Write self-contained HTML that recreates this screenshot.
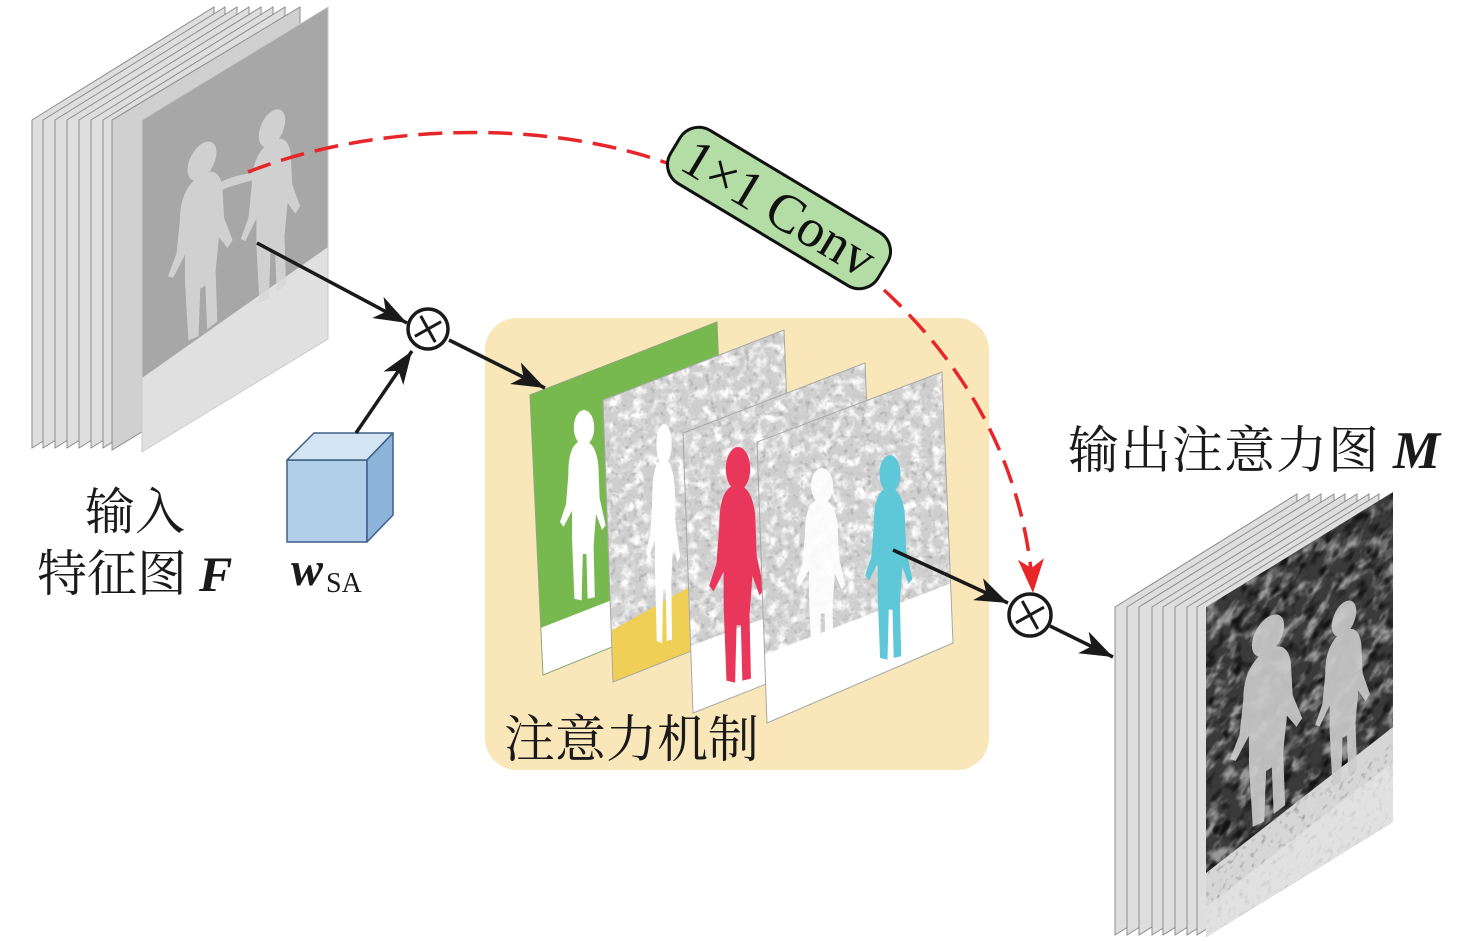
<!DOCTYPE html>
<html><head><meta charset="utf-8">
<style>
html,body{margin:0;padding:0;background:#fff;}
svg{display:block;}
</style></head>
<body>
<svg width="1476" height="941" viewBox="0 0 1476 941" xmlns="http://www.w3.org/2000/svg">
<defs>
  <marker id="ab" markerUnits="userSpaceOnUse" viewBox="-34 -14 36 28" refX="0" refY="0" markerWidth="36" markerHeight="28" orient="auto">
    <path d="M0,0 L-33,-12 L-24,0 L-33,12 Z" fill="#1a1a1a"/>
  </marker>
  <marker id="ar" markerUnits="userSpaceOnUse" viewBox="-36 -15 38 30" refX="0" refY="0" markerWidth="38" markerHeight="30" orient="auto">
    <path d="M0,0 L-34,-13 L-25,0 L-34,13 Z" fill="#e8262a"/>
  </marker>
  <filter id="wblob" x="0" y="0" width="1" height="1" color-interpolation-filters="sRGB">
    <feTurbulence type="fractalNoise" baseFrequency="0.09" numOctaves="3" seed="4"/>
    <feColorMatrix type="matrix" values="0 0 0 0 1  0 0 0 0 1  0 0 0 0 1  3.2 0 0 0 -1.45"/>
  </filter>
  <filter id="dspk" x="0" y="0" width="1" height="1" color-interpolation-filters="sRGB">
    <feTurbulence type="fractalNoise" baseFrequency="0.18" numOctaves="2" seed="9"/>
    <feColorMatrix type="matrix" values="0 0 0 0 0.55  0 0 0 0 0.55  0 0 0 0 0.55  3 0 0 0 -1.7"/>
  </filter>
  <filter id="gblob" x="0" y="0" width="1" height="1" color-interpolation-filters="sRGB">
    <feTurbulence type="fractalNoise" baseFrequency="0.06" numOctaves="3" seed="11"/>
    <feColorMatrix type="matrix" values="0 0 0 0 0.6  0 0 0 0 0.6  0 0 0 0 0.6  3.5 0 0 0 -1.6"/>
  </filter>
  <filter id="kblob" x="0" y="0" width="1" height="1" color-interpolation-filters="sRGB">
    <feTurbulence type="fractalNoise" baseFrequency="0.08" numOctaves="2" seed="21"/>
    <feColorMatrix type="matrix" values="0 0 0 0 0.08  0 0 0 0 0.08  0 0 0 0 0.08  3.5 0 0 0 -1.7"/>
  </filter>
  <g id="person">
    <ellipse cx="0" cy="22" rx="17" ry="22"/>
    <path d="M-10,40 C-22,46 -26,60 -26,80 L-30,118 L-40,140 L-34,146 L-20,126 L-20,160 L-16,236 L-4,238 L-2,180 L4,180 L6,236 L18,234 L16,170 L20,130 L30,150 L36,144 L26,110 L24,70 C22,52 14,42 6,40 Z"/>
  </g>
  <clipPath id="cp1"><polygon points="530,395 717,322 728,600 543,675"/></clipPath>
  <clipPath id="cp2"><polygon points="603,400 784,330 795,610 613,682"/></clipPath>
  <clipPath id="cp3"><polygon points="683,433 865,363 877,640 693,713"/></clipPath>
  <clipPath id="cp4"><polygon points="757,442 942,372 953,643 767,723"/></clipPath>
  <clipPath id="cpR"><rect x="0" y="0" width="187" height="330"/></clipPath>
  <clipPath id="cpL"><rect x="0" y="0" width="186" height="332"/></clipPath>
</defs>

<!-- LEFT STACK -->
<g fill="#dedede" stroke="#8c8c8c" stroke-width="1">
  <polygon points="32,120 214,7 214,335 32,448"/>
  <polygon points="43,120 225,7 225,335 43,448"/>
  <polygon points="55,120 237,7 237,335 55,448"/>
  <polygon points="67,120 249,7 249,335 67,448"/>
  <polygon points="79,120 261,7 261,335 79,448"/>
  <polygon points="91,120 273,7 273,335 91,448"/>
  <polygon points="103,120 285,7 285,335 103,448"/>
  <polygon points="112,120 300,7 300,336 112,450" fill="#d0d0d0"/>
</g>
<g transform="translate(142,120) skewY(-31.28)">
  <g clip-path="url(#cpL)">
    <rect x="0" y="0" width="186" height="332" fill="#a7a7a7"/>
    <polygon points="0,258 186,240 186,332 0,332" fill="#e0e0e0"/>
    <g fill="#d8d8d8" opacity="0.85">
      <use href="#person" transform="translate(60,60) scale(0.85,0.8)"/>
      <use href="#person" transform="translate(130,70) scale(0.78,0.78)"/>
      <path d="M80,110 C95,112 105,118 115,122 L112,128 C100,124 90,120 78,118 Z"/>
    </g>
  </g>
  <rect x="0" y="0" width="186" height="332" fill="none" stroke="#c8c8c8" stroke-width="1"/>
</g>

<!-- RIGHT STACK -->
<g fill="#dedede" stroke="#8c8c8c" stroke-width="1">
  <polygon points="1115,607 1297,494 1297,822 1115,935"/>
  <polygon points="1127,607 1309,494 1309,822 1127,935"/>
  <polygon points="1139,607 1321,494 1321,822 1139,935"/>
  <polygon points="1152,607 1334,494 1334,822 1152,935"/>
  <polygon points="1163,607 1345,494 1345,822 1163,935"/>
  <polygon points="1175,607 1357,494 1357,822 1175,935"/>
  <polygon points="1187,607 1369,494 1369,822 1187,935"/>
  <polygon points="1197,607 1379,494 1379,822 1197,935"/>
</g>
<g transform="translate(1206,607) skewY(-31.6)">
  <g clip-path="url(#cpR)">
    <rect x="0" y="0" width="187" height="330" fill="#3a3a3a"/>
    <rect x="0" y="0" width="187" height="330" fill="#fff" filter="url(#gblob)"/>
    <rect x="0" y="0" width="187" height="330" fill="#fff" filter="url(#kblob)"/>
    <polygon points="0,266 187,235 187,330 0,330" fill="#d6d6d6"/>
    <rect x="0" y="250" width="187" height="80" fill="#fff" filter="url(#dspk)" opacity="0.8"/>
    <g fill="#cdcdcd" opacity="0.9">
      <use href="#person" transform="translate(62,48) scale(0.95,0.85)"/>
      <use href="#person" transform="translate(138,80) scale(0.72,0.75)"/>
    </g>
    <polygon points="0,300 187,270 187,330 0,330" fill="#e8e8e8" opacity="0.6"/>
  </g>
</g>

<!-- ATTENTION BOX -->
<rect x="485" y="318" width="504" height="452" rx="32" fill="#f9e7b9"/>

<!-- plane 1 green -->
<g clip-path="url(#cp1)">
  <rect x="520" y="315" width="220" height="370" fill="#77b94f"/>
  <polygon points="520,636 740,550 740,700 520,700" fill="#ffffff"/>
  <use href="#person" fill="#ffffff" transform="translate(584,410) scale(0.6,0.8)"/>
</g>
<polygon points="530,395 717,322 728,600 543,675" fill="none" stroke="#8aa878" stroke-width="1"/>

<!-- plane 2 -->
<g clip-path="url(#cp2)">
  <rect x="600" y="325" width="200" height="365" fill="#cfcfcf"/>
  <rect x="600" y="325" width="200" height="365" fill="#fff" filter="url(#wblob)"/>
  <rect x="600" y="325" width="200" height="365" fill="#fff" filter="url(#dspk)" opacity="0.6"/>
  <polygon points="600,637 800,525 800,700 600,700" fill="#f0cf57"/>
  <use href="#person" fill="#ffffff" transform="translate(664,424) scale(0.45,0.92)"/>
</g>
<polygon points="603,400 784,330 795,610 613,682" fill="none" stroke="#a8a8a8" stroke-width="1"/>

<!-- plane 3 -->
<g clip-path="url(#cp3)">
  <rect x="680" y="358" width="200" height="360" fill="#cfcfcf"/>
  <rect x="680" y="358" width="200" height="360" fill="#fff" filter="url(#wblob)"/>
  <rect x="680" y="358" width="200" height="360" fill="#fff" filter="url(#dspk)" opacity="0.6"/>
  <polygon points="680,650 880,575 880,720 680,720" fill="#ffffff"/>
  <use href="#person" fill="#e9375b" transform="translate(738,447) scale(0.72,0.99)"/>
</g>
<polygon points="683,433 865,363 877,640 693,713" fill="none" stroke="#a8a8a8" stroke-width="1"/>

<!-- plane 4 -->
<g clip-path="url(#cp4)">
  <rect x="750" y="368" width="210" height="360" fill="#cfcfcf"/>
  <rect x="750" y="368" width="210" height="360" fill="#fff" filter="url(#wblob)"/>
  <rect x="750" y="368" width="210" height="360" fill="#fff" filter="url(#dspk)" opacity="0.6"/>
  <polygon points="750,660 960,580 960,730 750,730" fill="#ffffff"/>
  <use href="#person" fill="#ffffff" opacity="0.9" transform="translate(822,468) scale(0.65,0.81)"/>
  <use href="#person" fill="#5ec8d8" transform="translate(890,455) scale(0.62,0.86)"/>
</g>
<polygon points="757,442 942,372 953,643 767,723" fill="none" stroke="#a8a8a8" stroke-width="1"/>

<text x="504" y="757" font-family="'Liberation Serif','Noto Serif CJK SC',serif" font-size="51" fill="#1a1a1a">注意力机制</text>

<!-- CUBE -->
<g stroke="#3f5f86" stroke-width="1.5" stroke-linejoin="round">
  <polygon points="287,460 367,460 367,542 287,542" fill="#b1cfe8"/>
  <polygon points="287,460 314,433 393,433 367,460" fill="#d3e5f3"/>
  <polygon points="367,460 393,433 393,515 367,542" fill="#8cb3da"/>
</g>

<!-- ARROWS -->
<g stroke="#1a1a1a" stroke-width="3.5" fill="none">
  <line x1="257" y1="243" x2="407" y2="323" marker-end="url(#ab)"/>
  <line x1="356" y1="433" x2="412" y2="351" marker-end="url(#ab)"/>
  <line x1="449" y1="340" x2="545" y2="388" marker-end="url(#ab)"/>
  <line x1="893" y1="550" x2="1008" y2="603" marker-end="url(#ab)"/>
  <line x1="1050" y1="626" x2="1113" y2="657" marker-end="url(#ab)"/>
</g>

<!-- circles -->
<g stroke="#1a1a1a" stroke-width="3.5" fill="#ffffff">
  <circle cx="428" cy="329" r="20"/>
  <circle cx="1030" cy="615" r="21"/>
</g>
<g stroke="#1a1a1a" stroke-width="3" fill="none">
  <g transform="translate(428,329) rotate(-29)"><line x1="-15" y1="0" x2="15" y2="0"/><line x1="0" y1="-15" x2="0" y2="15"/></g>
  <g transform="translate(1030,615) rotate(-29)"><line x1="-16" y1="0" x2="16" y2="0"/><line x1="0" y1="-16" x2="0" y2="16"/></g>
</g>

<!-- red dashed curve -->
<path d="M248,172 C380,120 560,120 680,168" fill="none" stroke="#e8262a" stroke-width="3.5" stroke-dasharray="24 11"/>
<path d="M884,290 C960,360 1025,460 1033,593" fill="none" stroke="#e8262a" stroke-width="3.5" stroke-dasharray="24 11" marker-end="url(#ar)"/>

<!-- Conv box -->
<g transform="translate(779,208) rotate(31)">
  <rect x="-121" y="-31" width="242" height="62" rx="22" fill="#b3dda5" stroke="#111" stroke-width="3"/>
  <text x="0" y="18" text-anchor="middle" font-family="'Liberation Serif',serif" font-size="54" fill="#111">1×1 Conv</text>
</g>

<!-- LABELS -->
<text x="85" y="529" font-family="'Liberation Serif','Noto Serif CJK SC',serif" font-size="50" fill="#1a1a1a">输入</text>
<text x="37" y="591" font-family="'Liberation Serif','Noto Serif CJK SC',serif" font-size="50" fill="#1a1a1a">特征图</text>
<text x="199" y="591" font-family="'Liberation Serif',serif" font-size="50" font-weight="bold" font-style="italic" fill="#1a1a1a">F</text>
<text x="291" y="585" font-family="'Liberation Serif',serif" font-size="48" font-weight="bold" font-style="italic" fill="#1a1a1a">w</text>
<text x="326" y="592" font-family="'Liberation Serif',serif" font-size="28" fill="#1a1a1a">SA</text>
<text x="1068" y="468" font-family="'Liberation Serif','Noto Serif CJK SC',serif" font-size="51" letter-spacing="1" fill="#1a1a1a">输出注意力图</text>
<text x="1393" y="468" font-family="'Liberation Serif',serif" font-size="53" font-weight="bold" font-style="italic" fill="#1a1a1a">M</text>
</svg>
</body></html>
